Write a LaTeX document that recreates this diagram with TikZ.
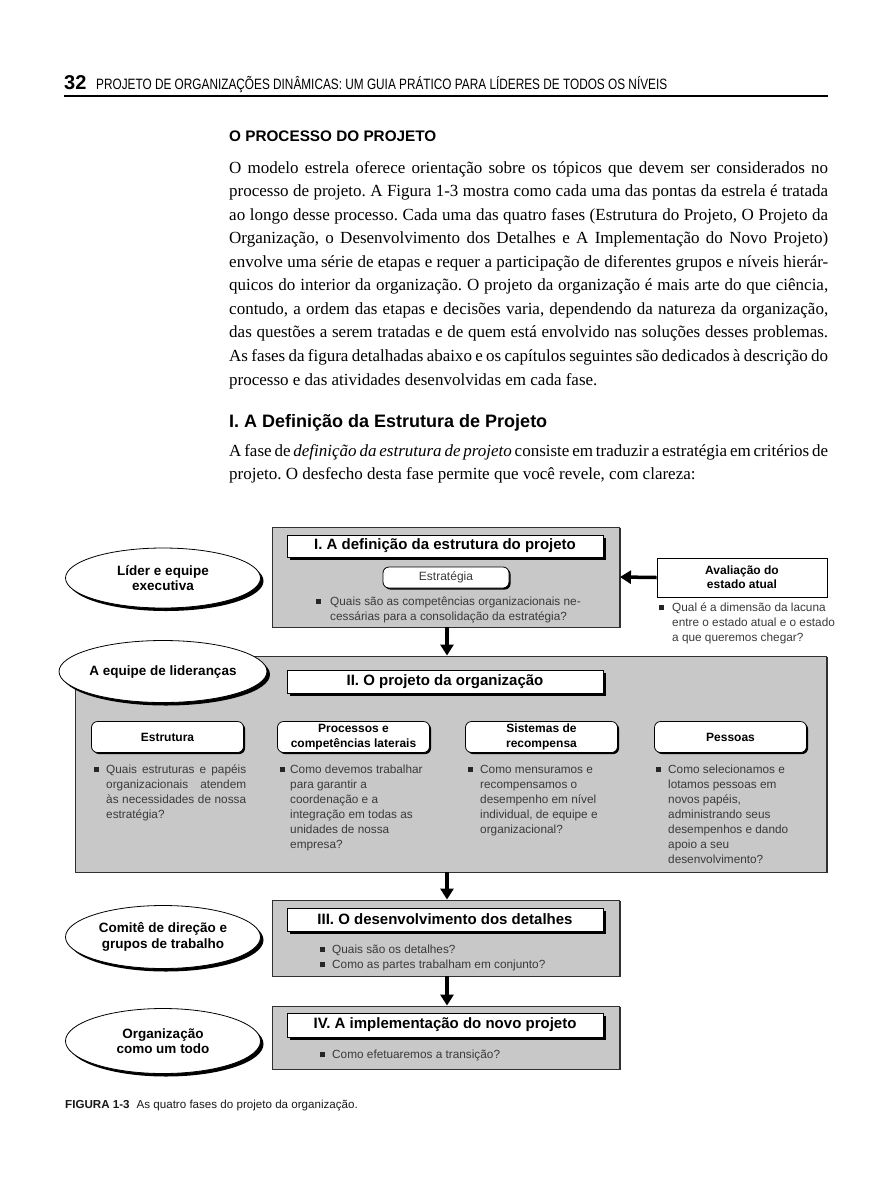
\documentclass[tikz,border=0pt]{standalone}
\usepackage{fontspec}
\usepackage{graphicx}
\setmainfont{Liberation Serif}
\newfontfamily\sans{Liberation Sans}
\usetikzlibrary{shapes.geometric,shadows,arrows.meta}
\definecolor{boxgray}{HTML}{C8C8C8}
\definecolor{txtgray}{HTML}{3A3A3A}
\definecolor{edgegray}{HTML}{303030}
\newcommand\bodyfont{\fontsize{17}{23.6}\selectfont}
\newcommand\sq{{\color{black!85}\rule[0.6pt]{5pt}{5pt}}}
\newcommand\bitem[2][11pt]{\makebox[#1][l]{\sq}\begin{tabular}[t]{@{}l@{}}#2\end{tabular}}
\newcommand\jbox[2]{\makebox[#1][s]{#2}}
\frenchspacing
\begin{document}
\begin{tikzpicture}[x=1pt,y=-1pt,
  bodytext/.style={anchor=base west, inner sep=0, font=\bodyfont},
  graybox/.style={draw=edgegray, line width=0.9pt, fill=boxgray, inner sep=0,
    drop shadow={shadow xshift=1.2pt, shadow yshift=-1.2pt, fill=edgegray, opacity=1}},
  titlebox/.style={draw=black, line width=1pt, fill=white, minimum width=316pt, inner sep=0,
    font=\sans\bfseries\fontsize{15}{16}\selectfont,
    drop shadow={shadow xshift=3pt, shadow yshift=-3pt, fill=black, opacity=1}},
  labelbox/.style={draw=black, line width=0.8pt, fill=white, rounded corners=6pt,
    minimum width=152pt, minimum height=31pt, inner sep=0, align=center,
    font=\sans\bfseries\fontsize{12}{14.5}\selectfont,
    drop shadow={shadow xshift=1.6pt, shadow yshift=-1.6pt, fill=black, opacity=1}},
  oval/.style={ellipse, draw=black, line width=0.8pt, fill=white, inner sep=0, align=center,
    font=\sans\bfseries\fontsize{13.5}{15.5}\selectfont,
    drop shadow={shadow xshift=3pt, shadow yshift=-3pt, fill=black, opacity=1}},
  bul/.style={anchor=base west, inner sep=0, font=\sans\fontsize{11.8}{15}\selectfont, text=txtgray},
  bigarrow/.style={line width=3.5pt, -{Triangle[width=13pt,length=11pt]}}
]
\useasboundingbox[fill=white] (0,0) rectangle (890,1187);

% ---------- running header ----------
\node[anchor=base west, inner sep=0, font=\sans\bfseries\fontsize{20}{20}\selectfont] (pgnum) at (64,89.5) {32};
\node[anchor=base west, inner sep=0, font=\sans\fontsize{15}{16}\selectfont] (runhead) at (96,89)
  {\resizebox{571pt}{\height}{PROJETO DE ORGANIZAÇÕES DINÂMICAS: UM GUIA PRÁTICO PARA LÍDERES DE TODOS OS NÍVEIS}};
\draw[line width=1.6pt] (64,96) -- (828,96);

% ---------- text ----------
\node[anchor=base west, inner sep=0, font=\sans\bfseries\fontsize{15.3}{16}\selectfont] (head1) at (229,141) {O PROCESSO DO PROJETO};

\node[bodytext] (b1) at (229,173.0) {\jbox{599pt}{O modelo estrela oferece orientação sobre os tópicos que devem ser considerados no}};
\node[bodytext] (b2) at (229,196.6) {\jbox{599pt}{processo de projeto. A Figura 1-3 mostra como cada uma das pontas da estrela é tratada}};
\node[bodytext] (b3) at (229,220.1) {\jbox{599pt}{ao longo desse processo. Cada uma das quatro fases (Estrutura do Projeto, O Projeto da}};
\node[bodytext] (b4) at (229,243.7) {\jbox{599pt}{Organização, o Desenvolvimento dos Detalhes e A Implementação do Novo Projeto)}};
\node[bodytext] (b5) at (229,267.2) {\jbox{599pt}{envolve uma série de etapas e requer a participação de diferentes grupos e níveis hierár-}};
\node[bodytext] (b6) at (229,290.8) {\jbox{599pt}{quicos do interior da organização. O projeto da organização é mais arte do que ciência,}};
\node[bodytext] (b7) at (229,314.3) {\jbox{599pt}{contudo, a ordem das etapas e decisões varia, dependendo da natureza da organização,}};
\node[bodytext] (b8) at (229,337.9) {\jbox{599pt}{das questões a serem tratadas e de quem está envolvido nas soluções desses problemas.}};
\node[bodytext] (b9) at (229,361.4) {\jbox{599pt}{As fases da figura detalhadas abaixo e os capítulos seguintes são dedicados à descrição do}};
\node[bodytext] (b10) at (229,385.0) {processo e das atividades desenvolvidas em cada fase.};

\node[anchor=base west, inner sep=0, font=\sans\bfseries\fontsize{18}{19}\selectfont] (head2) at (229,427) {I. A Definição da Estrutura de Projeto};

\node[bodytext] (c1) at (229,456) {\jbox{599pt}{A fase de \textit{definição da estrutura de projeto} consiste em traduzir a estratégia em critérios de}};
\node[bodytext] (c2) at (229,479.6) {projeto. O desfecho desta fase permite que você revele, com clareza:};

% ---------- diagram: phase I ----------
\node[graybox, minimum width=347pt, minimum height=100pt] (ph1) at (446,577) {};
\node[titlebox, minimum height=22pt] (t1) at (445,546) {I. A definição da estrutura do projeto};
\node[draw=black, line width=0.8pt, fill=white, rounded corners=6pt, minimum width=126pt, minimum height=21pt,
      inner sep=0, font=\sans\fontsize{12}{13}\selectfont, text=txtgray,
      drop shadow={shadow xshift=1.6pt, shadow yshift=-1.6pt, fill=black, opacity=1}] (estr) at (446,577.5) {Estratégia};
\node[bul] (q1) at (316,605) {\bitem[14pt]{Quais são as competências organizacionais ne-\\cessárias para a consolidação da estratégia?}};

\node[draw=black, line width=0.9pt, fill=white, minimum width=170pt, minimum height=39pt, inner sep=0, align=center,
      font=\sans\bfseries\fontsize{12}{14}\selectfont] (aval) at (742,577.5) {Avaliação do\\estado atual};
\node[bul, font=\sans\fontsize{11.8}{15.4}\selectfont] (qa) at (659,611) {\bitem[13pt]{Qual é a dimensão da lacuna\\entre o estado atual e o estado\\a que queremos chegar?}};

\node[oval, minimum width=195pt, minimum height=60pt] (e1) at (163,578) {Líder e equipe\\executiva};

% ---------- phase II ----------
\node[graybox, minimum width=751pt, minimum height=216pt] (ph2) at (451,764) {};
\node[oval, minimum width=199pt, minimum height=62pt] (e2) at (163,671.5) {A equipe de lideranças};
\node[titlebox, minimum height=23pt] (t2) at (445,681.5) {II. O projeto da organização};

\node[labelbox] (k1) at (167.5,737) {Estrutura};
\node[labelbox] (k2) at (353.5,737) {Processos e\\competências laterais};
\node[labelbox] (k3) at (541.5,737) {Sistemas de\\recompensa};
\node[labelbox] (k4) at (730.5,737) {Pessoas};

\node[bul] (s1) at (94,773) {\bitem[12pt]{\jbox{140pt}{Quais estruturas e papéis}\\\jbox{140pt}{organizacionais atendem}\\\jbox{140pt}{às necessidades de nossa}\\estratégia?}};
\node[bul] (s2) at (280,773) {\bitem[10pt]{Como devemos trabalhar\\para garantir a\\coordenação e a\\integração em todas as\\unidades de nossa\\empresa?}};
\node[bul] (s3) at (468,773) {\bitem[12pt]{Como mensuramos e\\recompensamos o\\desempenho em nível\\individual, de equipe e\\organizacional?}};
\node[bul] (s4) at (656,773) {\bitem[12pt]{Como selecionamos e\\lotamos pessoas em\\novos papéis,\\administrando seus\\desempenhos e dando\\apoio a seu\\desenvolvimento?}};

% ---------- phase III ----------
\node[graybox, minimum width=347pt, minimum height=76pt] (ph3) at (446,938) {};
\node[titlebox, minimum height=23pt] (t3) at (445,919.5) {III. O desenvolvimento dos detalhes};
\node[bul] (s5) at (320,953) {\bitem[12pt]{Quais são os detalhes?}};
\node[bul] (s5b) at (320,968) {\bitem[12pt]{Como as partes trabalham em conjunto?}};
\node[oval, minimum width=195pt, minimum height=63pt] (e3) at (163,937) {Comitê de direção e\\grupos de trabalho};

% ---------- phase IV ----------
\node[graybox, minimum width=347pt, minimum height=63pt] (ph4) at (446,1037.5) {};
\node[titlebox, minimum height=24pt] (t4) at (445,1025) {IV. A implementação do novo projeto};
\node[bul] (s6) at (320,1058) {\bitem[12pt]{Como efetuaremos a transição?}};
\node[oval, minimum width=195pt, minimum height=65pt] (e4) at (163,1041) {Organização\\como um todo};

% ---------- arrows ----------
\draw[bigarrow] (aval.west) -- (ph1.east);
\draw[bigarrow] (ph1.south -| 447,0) -- (ph2.north -| 447,0);
\draw[bigarrow] (ph2.south -| 447,0) -- (ph3.north -| 447,0);
\draw[bigarrow] (ph3.south -| 447,0) -- (ph4.north -| 447,0);

% ---------- caption ----------
\node[anchor=base west, inner sep=0, font=\sans\fontsize{11.6}{13}\selectfont, text=black!90] (cap) at (65,1108)
  {{\bfseries FIGURA 1-3}\hspace{7pt}As quatro fases do projeto da organização.};
\end{tikzpicture}
\end{document}
